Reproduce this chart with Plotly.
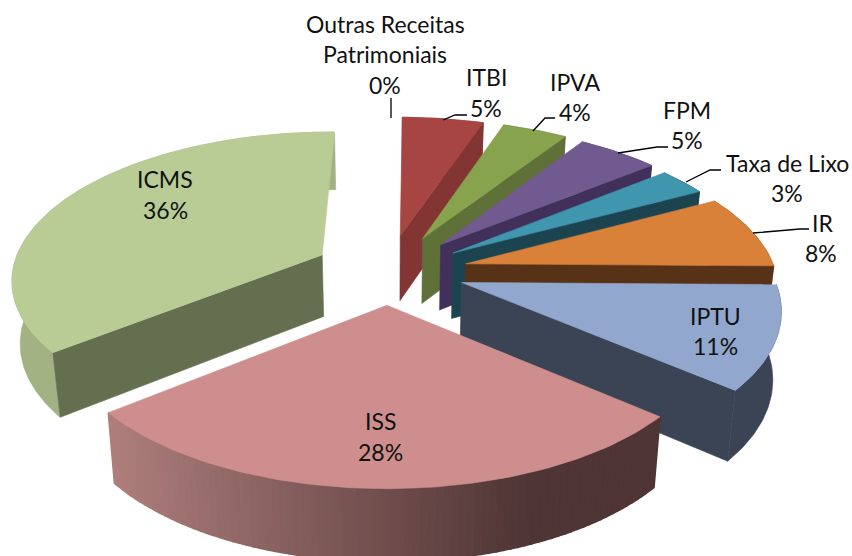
import math
import plotly.graph_objects as go

categories = ["Outras Receitas Patrimoniais", "ITBI", "IPVA", "FPM", "Taxa de Lixo", "IR", "IPTU", "ISS", "ICMS"]
values = [0, 5, 4, 5, 3, 8, 11, 28, 36]
percent_labels = ["0%", "5%", "4%", "5%", "3%", "8%", "11%", "28%", "36%"]
top_colors = ["#A74543", "#A74543", "#87A34E", "#715A90", "#3F96AE", "#D98139", "#92A7CE", "#CE8E8D", "#B9CC95"]
cut_colors = ["#823533", "#823533", "#5F7039", "#40305A", "#1C4450", "#583217", "#3B4455", "#5A3C3B", "#646F50"]
wall_colors = ["#823533", "#823533", "#5F7039", "#40305A", "#1C4450", "#583217", "#3B4455", "#5A3C3B", "#A2B283"]

# projection constants of the tilted pie
CX, CY, RX, RY = 388, 269, 310, 146
PERSP, EXPLODE, SHRINK, ROT = 0.153, 0.24, 0.978, math.radians(0.8)
# small per-slice placement corrections: dx, dy, depth scale, wall height offset
ADJUST = {"IPVA": (3, 0, 1, 0), "FPM": (4, 1, 1, 0), "Taxa de Lixo": (4, 3, 1, 0), "IR": (6, 3, 1, 0),
          "IPTU": (3, 1, 1, 1), "ISS": (0, 0, 0.98, 0), "ICMS": (0, 1, 1, -4)}


def project(t, m, r=1.0, bottom=False, name=""):
    """t: slice angle, m: mid angle of the slice (radians, clockwise from top)."""
    t, m = t + ROT, m + ROT
    dx, dy, k, dh = ADJUST.get(name, (0, 0, 1, 0))
    u = r * math.sin(t) + EXPLODE * math.sin(m)
    v = -r * math.cos(t) - EXPLODE * math.cos(m)
    s = 1 / (1 - PERSP * v)
    x, y = RX * u * s, RY * v * s
    ea = -EXPLODE * math.cos(m)
    apex_y = RY * ea / (1 - PERSP * ea)
    y = apex_y + (y - apex_y) * k
    if bottom:
        x *= SHRINK
        y += 66 + dh + 30 * (s - 1)
    return CX + dx + x, CY + dy + y


def poly(points, color, width=0.6):
    xs = [p[0] for p in points] + [points[0][0]]
    ys = [p[1] for p in points] + [points[0][1]]
    return go.Scatter(x=xs, y=ys, mode="lines", fill="toself", fillcolor=color,
                      line=dict(color=color, width=width), hoverinfo="skip", showlegend=False)


def mix(a, b, f):
    f = max(0, min(1, f))
    ca = [int(a[i:i + 2], 16) for i in (1, 3, 5)]
    cb = [int(b[i:i + 2], 16) for i in (1, 3, 5)]
    return "#%02X%02X%02X" % tuple(round(p + (q - p) * f) for p, q in zip(ca, cb))


total = sum(values)
slices = []
cum = 0
for i, val in enumerate(values):
    t0 = 2 * math.pi * cum / total
    t1 = 2 * math.pi * (cum + val) / total
    cum += val
    if val > 0:
        slices.append((i, t0, t1, (t0 + t1) / 2))

# painter's order: far slices first
slices.sort(key=lambda q: -math.cos(q[3]) + (0 if q[0] != 8 else -0.2))

traces = []
for i, t0, t1, m in slices:
    name = categories[i]
    n = max(6, values[i] * 3)
    ts = [t0 + (t1 - t0) * k / n for k in range(n + 1)]
    # outer wall: the top surface drawn afterwards hides whatever faces away
    if name == "ISS":
        # shaded wall: light on the left, darkest towards the right
        for a, b in zip(reversed(ts[:-1]), reversed(ts[1:])):
            x_mid = project((a + b) / 2, m, name=name)[0]
            f = (x_mid - 108) / 420
            traces.append(poly([project(a, m, name=name), project(b, m, name=name),
                                project(b, m, bottom=True, name=name), project(a, m, bottom=True, name=name)],
                               mix("#AE7F7C", "#4F3535", f), 1.6))
    else:
        traces.append(poly([project(t, m, name=name) for t in ts] +
                           [project(t, m, bottom=True, name=name) for t in reversed(ts)], wall_colors[i]))
    # radial cut faces
    for edge, visible in ((t0, math.sin(t0) < -0.01), (t1, math.sin(t1) > 0.01)):
        if visible:
            traces.append(poly([project(edge, m, 0, name=name), project(edge, m, name=name),
                                project(edge, m, bottom=True, name=name),
                                project(edge, m, 0, bottom=True, name=name)], cut_colors[i]))
    # top surface
    top = [project(0, m, 0, name=name)] + [project(t, m, name=name) for t in ts]
    traces.append(poly(top, top_colors[i]))

fig = go.Figure(traces)

# text lines: (text, x, y)
label_lines = {
    0: [("Outras Receitas", 385, 24), ("Patrimoniais", 385, 54), (percent_labels[0], 385, 85)],
    1: [(categories[1], 486, 77), (percent_labels[1], 486, 108)],
    2: [(categories[2], 575, 82), (percent_labels[2], 575, 112)],
    3: [(categories[3], 687, 110), (percent_labels[3], 687, 140)],
    4: [(categories[4], 787, 163), (percent_labels[4], 787, 193)],
    5: [(categories[5], 822, 223), (percent_labels[5], 821, 253)],
    6: [(categories[6], 715, 316), (percent_labels[6], 715, 346)],
    7: [(categories[7], 380, 421), (percent_labels[7], 380, 452)],
    8: [(categories[8], 165, 179), (percent_labels[8], 165, 210)],
}
annotations = []
for lines in label_lines.values():
    for text, x, y in lines:
        annotations.append(dict(x=x, y=y, xref="x", yref="y", text=text, showarrow=False,
                                xanchor="center", yanchor="middle",
                                font=dict(family="Lato", size=23, color="#111111")))

leaders = ["M391 98 L391 118", "M443 120 L455 115 L467 115", "M533 131 L545 118 L555 118",
           "M618 153 L657 147 L668 147", "M686 182 L710 170 L721 170", "M753 233 L800 229 L809 229"]
shapes = [dict(type="path", path=p, xref="x", yref="y", line=dict(color="#000000", width=1.3)) for p in leaders]

fig.update_layout(
    width=852, height=556, margin=dict(l=0, r=0, t=0, b=0),
    paper_bgcolor="white", plot_bgcolor="white", showlegend=False,
    xaxis=dict(range=[0, 852], visible=False, fixedrange=True),
    yaxis=dict(range=[556, 0], visible=False, fixedrange=True),
    annotations=annotations, shapes=shapes,
)
fig.write_html("out.html", config={"displayModeBar": False},
               post_script="document.body.style.margin='0';document.documentElement.style.overflow='hidden';")
